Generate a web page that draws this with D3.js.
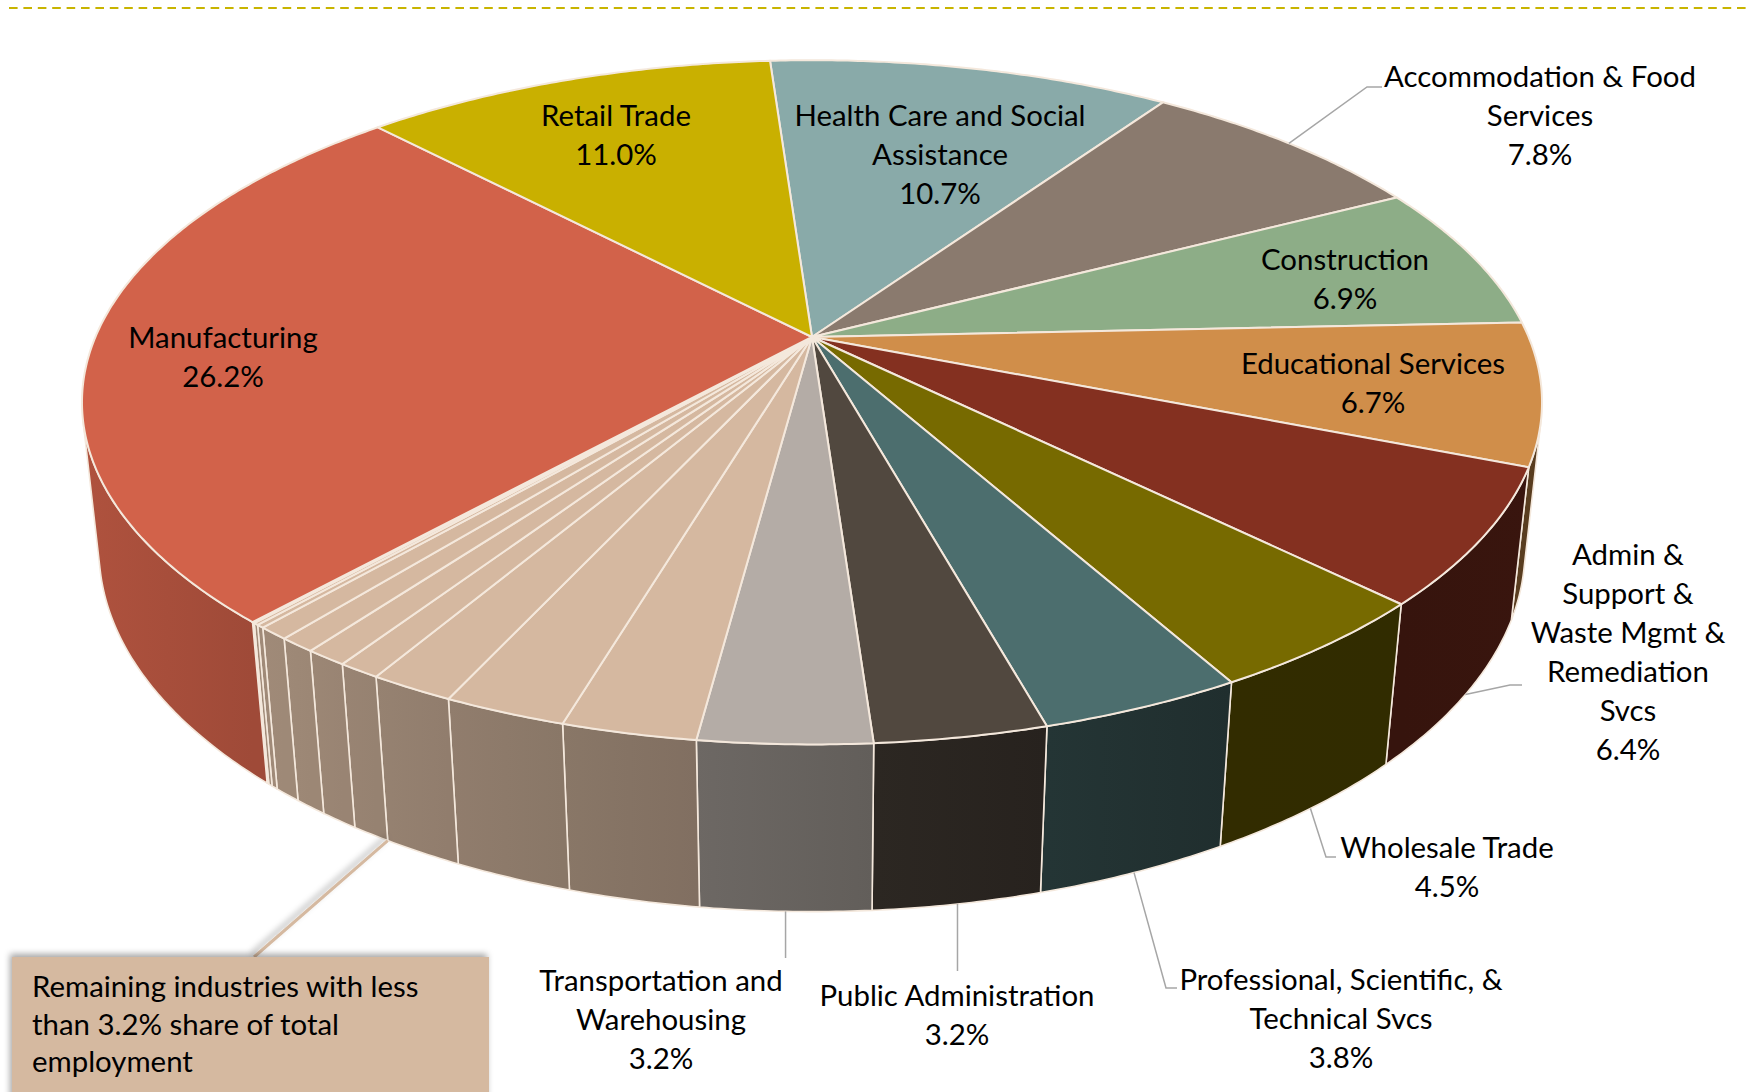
<!DOCTYPE html>
<html>
<head>
<meta charset="utf-8">
<script src="https://cdn.jsdelivr.net/npm/d3@7"></script>
<style>
  html, body { margin: 0; padding: 0; background: #fff; }
  svg { display: block; }
  text { font-family: Lato, "Open Sans", sans-serif; fill: #000; }
</style>
</head>
<body>
<div id="chart"></div>
<script>
// industries, clockwise from the top of the pie
const industries = [
    'Health Care and Social Assistance', 'Accommodation & Food Services', 'Construction',
    'Educational Services', 'Admin & Support & Waste Mgmt & Remediation Svcs', 'Wholesale Trade',
    'Professional, Scientific, & Technical Svcs', 'Public Administration', 'Transportation and Warehousing',
    'Other 1', 'Other 2', 'Other 3', 'Other 4', 'Other 5', 'Other 6', 'Other 7', 'Other 8', 'Other 9', 'Other 10',
    'Manufacturing', 'Retail Trade'
];
// share of total employment (%)
const shares = [10.7, 7.8, 6.9, 6.7, 6.4, 4.5, 3.8, 3.2, 3.2,
    2.5, 2.3, 1.6, 0.8, 0.8, 0.7, 0.6, 0.15, 0.1, 0.05,
    26.2, 11.0];
// slice colours
const sliceColors = ['#89AAA9', '#8A7A6E', '#8DAD87', '#D08E4A', '#843020', '#776A00',
    '#4C6E6E', '#51483F', '#B4ACA6',
    '#D5B8A0', '#D5B8A0', '#D5B8A0', '#D5B8A0', '#D5B8A0', '#D5B8A0', '#D5B8A0', '#D5B8A0', '#D5B8A0', '#D5B8A0',
    '#D2624A', '#C9B000'];
// label text lines (percent is appended)
const labelText = {
    'Health Care and Social Assistance': ['Health Care and Social', 'Assistance'],
    'Accommodation & Food Services': ['Accommodation & Food', 'Services'],
    'Construction': ['Construction'],
    'Educational Services': ['Educational Services'],
    'Admin & Support & Waste Mgmt & Remediation Svcs': ['Admin &', 'Support &', 'Waste Mgmt &', 'Remediation', 'Svcs'],
    'Wholesale Trade': ['Wholesale Trade'],
    'Professional, Scientific, & Technical Svcs': ['Professional, Scientific, &', 'Technical Svcs'],
    'Public Administration': ['Public Administration'],
    'Transportation and Warehousing': ['Transportation and', 'Warehousing'],
    'Manufacturing': ['Manufacturing'],
    'Retail Trade': ['Retail Trade']
};
const boxLines = ['Remaining industries with less', 'than 3.2% share of total', 'employment'];

// label placement (centre of first line) and leader elbows
const labelSpots = {
    'Health Care and Social Assistance': { x: 940, y: 116 },
    'Accommodation & Food Services': { x: 1540, y: 77, leader: 'top', elbow: [[1367, 87], [1382, 87]] },
    'Construction': { x: 1345, y: 260 },
    'Educational Services': { x: 1373, y: 364 },
    'Admin & Support & Waste Mgmt & Remediation Svcs': { x: 1628, y: 555, leader: 'bottom', elbow: [[1510, 685], [1522, 685]] },
    'Wholesale Trade': { x: 1447, y: 848, leader: 'bottom', elbow: [[1326, 857], [1336, 857]] },
    'Professional, Scientific, & Technical Svcs': { x: 1341, y: 980, leader: 'bottom', elbow: [[1166, 988], [1177, 988]] },
    'Public Administration': { x: 957, y: 996, leader: 'bottom', elbow: [[null, 971]] },
    'Transportation and Warehousing': { x: 661, y: 981, leader: 'bottom', elbow: [[null, 958]] },
    'Manufacturing': { x: 223, y: 338 },
    'Retail Trade': { x: 616, y: 116 }
};

const width = 1750, height = 1092;
const lineGap = 39;
const edgeColor = '#F4E8DC';

const svg = d3.select('#chart').append('svg')
    .attr('width', width)
    .attr('height', height);

const defs = svg.append('defs');
const shadow = defs.append('filter').attr('id', 'shadow')
    .attr('x', '-20%').attr('y', '-20%').attr('width', '140%').attr('height', '140%');
shadow.append('feDropShadow')
    .attr('dx', -2).attr('dy', -3).attr('stdDeviation', 3)
    .attr('flood-color', '#000').attr('flood-opacity', 0.35);

// dashed rule at the top
svg.append('line')
    .attr('x1', 9).attr('x2', width)
    .attr('y1', 8).attr('y2', 8)
    .attr('stroke', '#C8B400')
    .attr('stroke-width', 2)
    .attr('stroke-dasharray', '8.6,5.8');

// perspective camera looking down on the disc
const cam = { cx: 812, cy: 337, f: 3333, dist: 1, r: 0.215, h: 0.0502, tilt: Math.asin(0.46) };
function project(deg, yw) {
    const p = deg * Math.PI / 180;
    const X = cam.r * Math.sin(p), Z = -cam.r * Math.cos(p);
    const up = yw * Math.cos(cam.tilt) - Z * Math.sin(cam.tilt);
    const depth = cam.dist - yw * Math.sin(cam.tilt) - Z * Math.cos(cam.tilt);
    return [cam.cx + cam.f * X / depth, cam.cy - cam.f * up / depth];
}
function rim(a0, a1, yw) {
    const n = Math.max(2, Math.ceil(Math.abs(a1 - a0) / 0.5));
    return d3.range(n + 1).map(function (i) { return project(a0 + (a1 - a0) * i / n, yw); });
}
// brightness of the side wall by angle
const light = d3.scaleLinear()
    .domain([100, 123, 143, 158, 170, 182, 225, 260])
    .range([0.42, 0.44, 0.39, 0.44, 0.51, 0.58, 0.77, 0.84])
    .clamp(true);
function shade(color, k) {
    const c = d3.rgb(color);
    return d3.rgb(c.r * k, c.g * k, c.b * k).formatHex();
}

const toDeg = function (r) { return r * 180 / Math.PI; };
const arcs = d3.pie().sort(null).value(function (d) { return d; })
    .startAngle(-4 * Math.PI / 180)
    .endAngle(356 * Math.PI / 180)(shares);

const line = d3.line();
const centre = [cam.cx, cam.cy];

// side walls visible between these angles
const lim = toDeg(Math.acos(-cam.r / (cam.dist * Math.cos(cam.tilt))));

const sides = svg.append('g');
arcs.forEach(function (a, i) {
    const v0 = Math.max(toDeg(a.startAngle), lim);
    const v1 = Math.min(toDeg(a.endAngle), 360 - lim);
    if (v1 <= v0) return;
    const p0 = project(v0, 0), p1 = project(v1, 0);
    const grad = defs.append('linearGradient')
        .attr('id', 'side' + i)
        .attr('gradientUnits', 'userSpaceOnUse')
        .attr('x1', p0[0]).attr('x2', p1[0]).attr('y1', 0).attr('y2', 0);
    grad.append('stop').attr('offset', 0).attr('stop-color', shade(sliceColors[i], light(v0)));
    grad.append('stop').attr('offset', 1).attr('stop-color', shade(sliceColors[i], light(v1)));
    const pts = rim(v0, v1, 0).concat(rim(v1, v0, -cam.h));
    sides.append('path')
        .attr('d', line(pts) + 'Z')
        .attr('fill', 'url(#side' + i + ')')
        .attr('stroke', edgeColor)
        .attr('stroke-width', 1.6)
        .attr('stroke-linejoin', 'round');
});

// top face
svg.append('g')
    .selectAll('path')
    .data(arcs)
    .enter()
    .append('path')
    .attr('d', function (a) {
        return line([centre].concat(rim(toDeg(a.startAngle), toDeg(a.endAngle), 0))) + 'Z';
    })
    .attr('fill', function (a, i) { return sliceColors[i]; })
    .attr('stroke', edgeColor)
    .attr('stroke-width', 2)
    .attr('stroke-linejoin', 'round');

// font size picked so the label widths match
const probe = svg.append('text').style('font-size', '100px').text('Accommodation & Food');
const fontSize = 100 * 312 / probe.node().getComputedTextLength();
probe.remove();

// leader lines
const leaders = svg.append('g')
    .attr('fill', 'none')
    .attr('stroke', '#A6A6A6')
    .attr('stroke-width', 1.5);

arcs.forEach(function (a, i) {
    const spot = labelSpots[industries[i]];
    if (!spot) return;
    if (spot.leader) {
        const mid = toDeg((a.startAngle + a.endAngle) / 2);
        const start = project(mid, spot.leader === 'top' ? 0 : -cam.h);
        const pts = [start].concat(spot.elbow.map(function (p) { return [p[0] === null ? start[0] : p[0], p[1]]; }));
        leaders.append('path').attr('d', line(pts));
    }
    const lines = labelText[industries[i]].concat([d3.format('.1f')(shares[i]) + '%']);
    const t = svg.append('text')
        .attr('text-anchor', 'middle')
        .style('font-size', fontSize + 'px');
    lines.forEach(function (s, j) {
        t.append('tspan')
            .attr('x', spot.x)
            .attr('y', spot.y + j * lineGap)
            .attr('dy', '0.35em')
            .text(s);
    });
});

// call-out for the small industries
const smallStart = industries.indexOf('Other 1');
const anchor = project(toDeg(arcs[smallStart + 2].endAngle), -cam.h);
svg.append('path')
    .attr('d', line([anchor, [254, 957]]))
    .attr('stroke', '#D5B9A0')
    .attr('stroke-width', 3)
    .attr('fill', 'none')
    .attr('filter', 'url(#shadow)');

svg.append('rect')
    .attr('x', 12).attr('y', 957)
    .attr('width', 477).attr('height', 160)
    .attr('fill', '#D5B9A0')
    .attr('filter', 'url(#shadow)');

const boxText = svg.append('text').style('font-size', fontSize + 'px');
boxLines.forEach(function (s, j) {
    boxText.append('tspan')
        .attr('x', 32)
        .attr('y', 987 + j * 37.5)
        .attr('dy', '0.35em')
        .text(s);
});
</script>
</body>
</html>
